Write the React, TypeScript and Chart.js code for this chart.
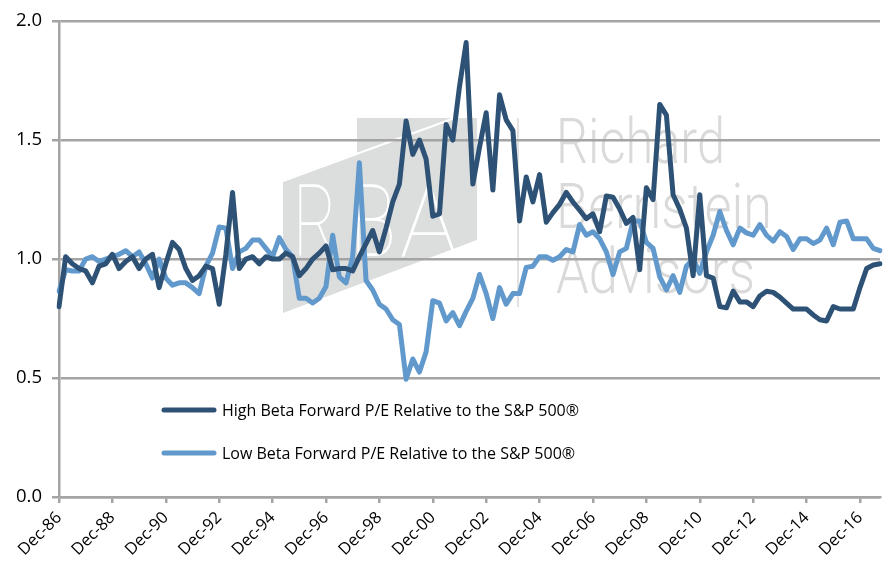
import React, { useEffect, useRef } from "react";
import { Chart, registerables } from "chart.js";

Chart.register(...registerables);

// ---------- data ----------
const QUARTER_MONTHS = ["Dec", "Mar", "Jun", "Sep"];
const FIRST_YEAR = 86;
const POINT_COUNT = 124;

function quarterLabels(count: number): string[] {
  const out: string[] = [];
  for (let i = 0; i < count; i++) {
    const yr = (FIRST_YEAR + Math.floor((i + 3) / 4)) % 100;
    out.push(QUARTER_MONTHS[i % 4] + "-" + String(yr).padStart(2, "0"));
  }
  return out;
}
const categories = quarterLabels(POINT_COUNT);

const highBeta = [
  0.8, 1.01, 0.98, 0.96, 0.95, 0.9, 0.97, 0.98, 1.02, 0.96,
  0.99, 1.01, 0.96, 1.0, 1.02, 0.88, 0.98, 1.07, 1.04, 0.96,
  0.91, 0.93, 0.97, 0.96, 0.81, 1.02, 1.28, 0.96, 1.0, 1.01,
  0.98, 1.01, 1.0, 1.0, 1.025, 1.01, 0.93, 0.96, 1.0, 1.025,
  1.055, 0.955, 0.96, 0.96, 0.95, 1.01, 1.065, 1.12, 1.03, 1.13,
  1.24, 1.315, 1.58, 1.44, 1.5, 1.42, 1.18, 1.19, 1.565, 1.5,
  1.725, 1.91, 1.315, 1.47, 1.615, 1.29, 1.69, 1.585, 1.54, 1.16,
  1.345, 1.24, 1.355, 1.155, 1.195, 1.23, 1.28, 1.24, 1.205, 1.17,
  1.19, 1.115, 1.265, 1.26, 1.21, 1.15, 1.175, 0.955, 1.3, 1.25,
  1.65, 1.605, 1.27, 1.21, 1.13, 0.93, 1.27, 0.93, 0.92, 0.8,
  0.795, 0.865, 0.82, 0.82, 0.8, 0.845, 0.865, 0.86, 0.84, 0.815,
  0.79, 0.79, 0.79, 0.765, 0.745, 0.74, 0.8, 0.79, 0.79, 0.79,
  0.88, 0.96, 0.975, 0.98,
];

const lowBeta = [
  0.865, 0.955, 0.95, 0.95, 1.0, 1.01, 0.99, 1.0, 1.01, 1.02,
  1.035, 1.01, 1.03, 0.98, 0.92, 1.0, 0.92, 0.89, 0.9, 0.9,
  0.88, 0.855, 0.97, 1.025, 1.135, 1.13, 0.96, 1.03, 1.045, 1.08,
  1.08, 1.045, 1.01, 1.09, 1.04, 1.01, 0.835, 0.835, 0.815, 0.835,
  0.885, 1.1, 0.925, 0.9, 1.01, 1.405, 0.91, 0.87, 0.81, 0.79,
  0.745, 0.725, 0.495, 0.58, 0.525, 0.61, 0.825, 0.815, 0.74, 0.775,
  0.72, 0.78, 0.835, 0.935, 0.855, 0.75, 0.88, 0.81, 0.855, 0.855,
  0.965, 0.97, 1.01, 1.01, 0.995, 1.01, 1.04, 1.03, 1.145, 1.1,
  1.115, 1.085, 1.03, 0.935, 1.03, 1.045, 1.16, 1.16, 1.07, 1.045,
  0.925, 0.87, 0.93, 0.86, 0.97, 1.0, 0.94, 1.03, 1.1, 1.2,
  1.12, 1.06, 1.13, 1.11, 1.1, 1.145, 1.1, 1.075, 1.115, 1.095,
  1.04, 1.085, 1.085, 1.065, 1.08, 1.13, 1.06, 1.155, 1.16, 1.085,
  1.085, 1.085, 1.045, 1.035,
];

const seriesNames = [
  "High Beta Forward P/E Relative to the S&P 500®",
  "Low Beta Forward P/E Relative to the S&P 500®",
];
const seriesColors = ["#2E5276", "#6199CC"];
const Y_MIN = 0;
const Y_MAX = 2;
const Y_STEP = 0.5;
const LABEL_EVERY = 8;

const watermarkMonogram = ["R", "B", "A"];
const watermarkWords = ["Richard", "Bernstein", "Advisors"];

// ---------- helpers ----------
const GRID = "#a4a4a4";
const FONT = "'Open Sans', 'DejaVu Sans', sans-serif";

function fitText(
  ctx: CanvasRenderingContext2D,
  text: string,
  x: number,
  baseline: number,
  width: number,
  size: number,
  weight: string,
  family: string,
  color: string
) {
  ctx.save();
  ctx.font = `${weight} ${size}px ${family}`;
  const w = ctx.measureText(text).width || 1;
  ctx.translate(x, baseline);
  ctx.scale(width / w, 1);
  ctx.fillStyle = color;
  ctx.textBaseline = "alphabetic";
  ctx.textAlign = "left";
  ctx.fillText(text, 0, 0);
  ctx.restore();
}

const watermarkPlugin = {
  id: "watermark",
  beforeDraw(chart: any) {
    const ctx: CanvasRenderingContext2D = chart.ctx;
    ctx.save();
    ctx.fillStyle = "#dcdddd";
    ctx.beginPath();
    ctx.moveTo(283, 180);
    ctx.lineTo(283, 313);
    ctx.lineTo(477, 240);
    ctx.lineTo(477, 118);
    ctx.lineTo(357, 118);
    ctx.lineTo(357, 153);
    ctx.closePath();
    ctx.fill();
    ctx.strokeStyle = "#ffffff";
    ctx.lineWidth = 2;
    ctx.beginPath();
    ctx.moveTo(283, 181);
    ctx.lineTo(460, 116);
    ctx.stroke();
    const fam = "Roboto, 'Open Sans', sans-serif";
    const letterX = [293, 350, 400];
    const letterW = [44, 46, 58];
    watermarkMonogram.forEach((l, i) =>
      fitText(ctx, l, letterX[i], 256, letterW[i], 101, "100", fam, "#ffffff")
    );
    ctx.strokeStyle = "#d9d9d9";
    ctx.lineWidth = 1.5;
    ctx.beginPath();
    ctx.moveTo(518, 118);
    ctx.lineTo(518, 307);
    ctx.stroke();
    const baselines = [163, 228, 293];
    const widths = [169, 216, 199];
    watermarkWords.forEach((w, i) =>
      fitText(ctx, w, 556, baselines[i], widths[i], 63, "300", fam, "#dadada")
    );
    ctx.restore();
  },
};

const legendPlugin = {
  id: "innerLegend",
  afterDatasetsDraw(chart: any) {
    const ctx: CanvasRenderingContext2D = chart.ctx;
    const rows = [410, 453];
    ctx.save();
    seriesNames.forEach((name, i) => {
      ctx.strokeStyle = seriesColors[i];
      ctx.lineWidth = 5;
      ctx.lineCap = "round";
      ctx.beginPath();
      ctx.moveTo(164, rows[i]);
      ctx.lineTo(214, rows[i]);
      ctx.stroke();
      ctx.fillStyle = "#000000";
      ctx.font = `16px ${FONT}`;
      ctx.textBaseline = "middle";
      ctx.textAlign = "left";
      ctx.fillText(name, 222, rows[i] + 1);
    });
    ctx.restore();
  },
};

export default function App() {
  const canvasRef = useRef<HTMLCanvasElement | null>(null);

  useEffect(() => {
    if (!canvasRef.current) return;
    const chart = new Chart(canvasRef.current, {
      type: "line",
      data: {
        labels: categories,
        datasets: [
          {
            label: seriesNames[0],
            data: highBeta,
            borderColor: seriesColors[0],
            backgroundColor: seriesColors[0],
            borderWidth: 5,
            pointRadius: 0,
            tension: 0,
            borderJoinStyle: "round",
            borderCapStyle: "round",
          },
          {
            label: seriesNames[1],
            data: lowBeta,
            borderColor: seriesColors[1],
            backgroundColor: seriesColors[1],
            borderWidth: 5,
            pointRadius: 0,
            tension: 0,
            borderJoinStyle: "round",
            borderCapStyle: "round",
          },
        ],
      },
      options: {
        responsive: false,
        animation: false,
        devicePixelRatio: 1,
        layout: { padding: { top: 17, right: 8, left: 0, bottom: 0 } },
        plugins: {
          legend: { display: false },
          tooltip: { enabled: false },
        },
        scales: {
          x: {
            type: "category",
            offset: false,
            afterBuildTicks: (scale: any) => {
              scale.ticks = scale.ticks.filter(
                (t: any) => t.value % LABEL_EVERY === 0
              );
            },
            afterFit: (scale: any) => {
              scale.height = 72;
            },
            ticks: {
              autoSkip: false,
              maxRotation: 45,
              minRotation: 45,
              padding: 5,
              color: "#000000",
              font: { family: FONT, size: 16.5 },
              callback: function (this: any, value: any) {
                return this.getLabelForValue(value);
              },
            },
            grid: {
              drawOnChartArea: false,
              drawTicks: true,
              tickLength: 6,
              color: GRID,
              lineWidth: 2.5,
            },
            border: { display: true, color: GRID, width: 2.5 },
          },
          y: {
            min: Y_MIN,
            max: Y_MAX,
            afterFit: (scale: any) => {
              scale.width = 59;
            },
            ticks: {
              stepSize: Y_STEP,
              padding: 10,
              color: "#000000",
              font: { family: FONT, size: 18.5 },
              callback: (v: any) => Number(v).toFixed(1),
            },
            grid: {
              color: GRID,
              lineWidth: 2.5,
              tickLength: 7,
              drawTicks: true,
            },
            border: { display: true, color: GRID, width: 2.5 },
          },
        },
      },
      plugins: [watermarkPlugin, legendPlugin],
    } as any);
    return () => chart.destroy();
  }, []);

  return (
    <div
      style={{
        position: "fixed",
        left: 0,
        top: 0,
        width: 888,
        height: 569,
        background: "#ffffff",
      }}
    >
      <canvas
        ref={canvasRef}
        width={888}
        height={569}
        style={{ width: 888, height: 569, display: "block" }}
      />
    </div>
  );
}
